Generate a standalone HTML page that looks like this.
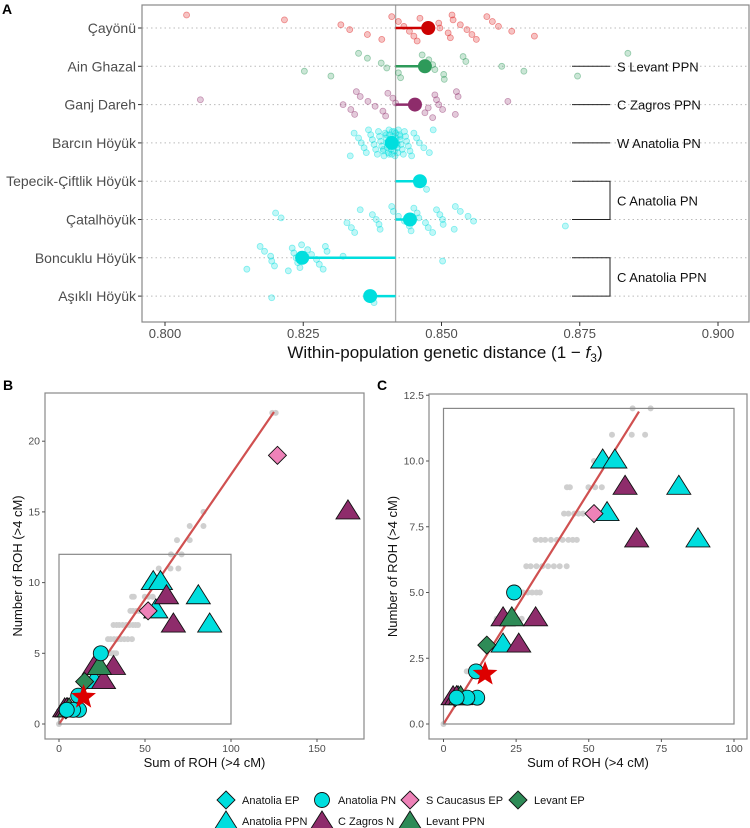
<!DOCTYPE html>
<html><head><meta charset="utf-8">
<style>
body{margin:0;background:#fff;}
svg{display:block;font-family:"Liberation Sans",sans-serif;}
</style></head>
<body>
<svg id="fig" width="750" height="828" viewBox="0 0 750 828"></svg>
<script>
// ---------- Panel A data ----------
const popNames = ["Çayönü","Ain Ghazal","Ganj Dareh","Barcın Höyük","Tepecik-Çiftlik Höyük","Çatalhöyük","Boncuklu Höyük","Aşıklı Höyük"];
const popMeans = [0.8476,0.8470,0.8452,0.8410,0.8461,0.8443,0.8248,0.8371];
const refLine = 0.8417;
const ptsCayonu = [.8039,.8216,.8318,.8334,.8366,.8392,.8410,.8422,.8432,.8442,.8450,.8456,.8461,.8495,.8497,.8512,.8516,.8519,.8521,.8534,.8546,.8555,.8563,.8582,.8592,.8603,.8627,.8668];
const ptsAinGhazal = [.8252,.8300,.8350,.8366,.8391,.8401,.8422,.8426,.8465,.8477,.8484,.8488,.8504,.8505,.8539,.8544,.8609,.8649,.8746,.8837];
const ptsGanjDareh = [.8064,.8322,.8336,.8343,.8346,.8353,.8367,.8380,.8394,.8399,.8403,.8412,.8417,.8476,.8470,.8484,.8488,.8491,.8495,.8502,.8525,.8527,.8530,.8620];
const ptsBarcin = [.8335,.8342,.8350,.8355,.8360,.8364,.8368,.8372,.8375,.8378,.8381,.8384,.8386,.8388,.8390,.8392,.8394,.8396,.8398,.8400,.8401,.8402,.8404,.8405,.8406,.8407,.8408,.8409,.8410,.8411,.8412,.8413,.8414,.8415,.8416,.8417,.8418,.8419,.8420,.8421,.8422,.8424,.8425,.8427,.8429,.8431,.8433,.8435,.8437,.8440,.8443,.8446,.8450,.8455,.8460,.8468,.8478,.8485,.8400,.8410,.8420,.8395,.8405,.8415,.8425];
const ptsTepecik = [.8456,.8473];
const ptsCatal = [.8200,.8210,.8329,.8337,.8343,.8353,.8375,.8382,.8387,.8389,.8410,.8413,.8422,.8433,.8442,.8445,.8450,.8456,.8459,.8471,.8476,.8484,.8491,.8497,.8502,.8503,.8523,.8525,.8534,.8548,.8558,.8724];
const ptsBoncuklu = [.8148,.8172,.8180,.8191,.8193,.8198,.8223,.8230,.8233,.8237,.8240,.8244,.8247,.8258,.8265,.8274,.8279,.8286,.8290,.8293,.8322,.8502];
const ptsAsikli = [.8193,.8378];
const popPoints = [ptsCayonu,ptsAinGhazal,ptsGanjDareh,ptsBarcin,ptsTepecik,ptsCatal,ptsBoncuklu,ptsAsikli];
const popColors = ["#dd1111","#2e9a5a","#8e2c6b","#00dede","#00dede","#00dede","#00dede","#00dede"];
const xTicksA = [0.800,0.825,0.850,0.875,0.900];
const regionLabels = ["S Levant PPN","C Zagros PPN","W Anatolia PN","C Anatolia PN","C Anatolia PPN"];
const regionRows = [[1,1],[2,2],[3,3],[4,5],[6,7]];

// ---------- Panels B/C data ----------
const grayN = [0,2,4,4,4,4,4,5,5,5,5,5,6,6,6,6,6,6,6,6,7,7,7,7,7,7,7,7,7,8,8,8,8,8,9,9,9,9,9,10,10,11,11,11,12,12,13,13,14,14,15,22,22];
const graySum = [0,8,18.3,20,22,24.5,26.9,27.4,29,30.5,32,33.2,28.5,30,32,34,36,38,40,42.4,31.7,33.5,35,37,39,41,43,45.9,44.5,41.5,43,45,46.5,48,42.5,43.5,49.9,52.2,54.5,51.8,53.5,58,64.8,69.4,65.1,71.3,68.6,76,76,84,84,124,126];
const grpAnatoliaPPN_x = [54.8,59,81,56.3,87.6,20.5,5];
const grpAnatoliaPPN_y = [10,10,9,8,7,3,1];
const grpCZagros_x = [62.5,66.5,31.7,25.9,20.5,3.3,4.5,168];
const grpCZagros_y = [9,7,4,3,4,1,1,15];
const grpLevantPPN_x = [23.5,5.9];
const grpLevantPPN_y = [4,1];
const grpLevantEP_x = [14.9];
const grpLevantEP_y = [3];
const grpSCauc_x = [51.8,127];
const grpSCauc_y = [8,19];
const grpAnatoliaPN_x = [24.3,11.2,11.6,8.2,4.5];
const grpAnatoliaPN_y = [5,2,1,1,1];
const grpAnatoliaEP_x = [4];
const grpAnatoliaEP_y = [1];
const starPoint = [14.3,1.9];
const fitSlope = 0.1765;
const bXTicks = [0,50,100,150];
const bYTicks = [0,5,10,15,20];
const cXTicks = [0,25,50,75,100];
const cYTicks = [0,2.5,5,7.5,10,12.5];
const cYLabels = ["0.0","2.5","5.0","7.5","10.0","12.5"];

const NS="http://www.w3.org/2000/svg";
const svg=document.getElementById('fig');
function mk(tag,attrs,parent,txt){const e=document.createElementNS(NS,tag);for(const k in attrs)e.setAttribute(k,attrs[k]);if(txt!==undefined)e.textContent=txt;(parent||svg).appendChild(e);return e;}

// ---------- Panel A ----------
const gA=mk('g',{});


const axL=142,axR=749,axT=5,axB=322;
const xA=v=>165+(v-0.8)*5530;
const rowY=i=>28+i*38.3;
const pl=mk('text',{x:2,y:14,'font-size':14,'font-weight':'bold'},gA,'A');


for(let i=0;i<popNames.length;i++){
  const gl=mk('line',{x1:axL,x2:axR,y1:rowY(i),y2:rowY(i),stroke:'#bbb','stroke-dasharray':'1.5,3','stroke-width':1},gA);
  
  
}
const vl=mk('line',{x1:xA(refLine),x2:xA(refLine),y1:axT,y2:axB,stroke:'#aaa','stroke-width':1.3},gA);


for(let i=0;i<popNames.length;i++){
  const pts=popPoints[i];
  pts.forEach((v,j)=>{
    const jit=(((j*37+i*11)%17)-8)/8*13;
    const c=mk('circle',{cx:xA(v),cy:rowY(i)+jit,r:3,fill:popColors[i],'fill-opacity':0.25,stroke:popColors[i],'stroke-opacity':0.45,'stroke-width':0.8},gA);
    
    
  });
}
for(let i=0;i<popNames.length;i++){
  const ml=mk('line',{x1:xA(refLine),x2:xA(popMeans[i]),y1:rowY(i),y2:rowY(i),stroke:popColors[i]==='#dd1111'?'#cc0000':popColors[i],'stroke-width':2.5},gA);
  
  
  const mc=mk('circle',{cx:xA(popMeans[i]),cy:rowY(i),r:7,fill:popColors[i]==='#dd1111'?'#cc0000':popColors[i]},gA);
  
  
  const t=mk('text',{x:136,y:rowY(i)+5,'text-anchor':'end','font-size':14,fill:'#4d4d4d'},gA,popNames[i]);
  
  
  mk('line',{x1:138,x2:142,y1:rowY(i),y2:rowY(i),stroke:'#333'},gA);
}
regionLabels.forEach((lab,k)=>{
  const [a,b]=regionRows[k];
  const g=mk('g',{},gA);
  
  
  if(a===b){
    mk('line',{x1:572,x2:610,y1:rowY(a),y2:rowY(a),stroke:'#222'},g);
    mk('text',{x:617,y:rowY(a)+5,'font-size':13,fill:'#111'},g,lab);
  } else {
    mk('path',{d:`M572 ${rowY(a)} H610 V${rowY(b)} H572`,fill:'none',stroke:'#222'},g);
    mk('text',{x:617,y:(rowY(a)+rowY(b))/2+5,'font-size':13,fill:'#111'},g,lab);
  }
});
mk('rect',{x:axL,y:axT,width:axR-axL,height:axB-axT,fill:'none',stroke:'#888','stroke-width':1.2},gA);
xTicksA.forEach(v=>{
  mk('line',{x1:xA(v),x2:xA(v),y1:axB,y2:axB+4,stroke:'#333'},gA);
  const t=mk('text',{x:xA(v),y:axB+16,'text-anchor':'middle','font-size':13,fill:'#4d4d4d'},gA,v.toFixed(3));
  
  
});
const tA=mk('text',{x:445,y:358,'text-anchor':'middle','font-size':17,fill:'#111'},gA);


tA.innerHTML='Within-population genetic distance (1 − <tspan font-style="italic">f</tspan><tspan font-size="12" dy="4">3</tspan><tspan dy="-4">)</tspan>';

// ---------- Scatter panels ----------
function shape(g,type,cx,cy,fill,name){
  let e;
  if(type==='tri') e=mk('polygon',{points:`${cx},${cy-12} ${cx+12},${cy+7} ${cx-12},${cy+7}`,fill,stroke:'#111','stroke-width':0.9},g);
  else if(type==='dia') e=mk('polygon',{points:`${cx},${cy-9} ${cx+9},${cy} ${cx},${cy+9} ${cx-9},${cy}`,fill,stroke:'#111','stroke-width':0.9},g);
  else if(type==='cir') e=mk('circle',{cx,cy,r:7.5,fill,stroke:'#111','stroke-width':0.9},g);
  else if(type==='star'){
    let p='';for(let k=0;k<10;k++){const r=k%2?5.5:13;const a=-Math.PI/2+k*Math.PI/5;p+=`${cx+r*Math.cos(a)},${cy+r*Math.sin(a)} `;}
    e=mk('polygon',{points:p,fill,stroke:'none'},g);
  }
  
  
  return e;
}
const groups=[
  {t:'dia',c:'#00dede',x:grpAnatoliaEP_x,y:grpAnatoliaEP_y,n:'anatolia-ep-point'},
  {t:'tri',c:'#00dede',x:grpAnatoliaPPN_x,y:grpAnatoliaPPN_y,n:'anatolia-ppn-point'},
  {t:'tri',c:'#8e2c6b',x:grpCZagros_x,y:grpCZagros_y,n:'c-zagros-n-point'},
  {t:'tri',c:'#2e8b57',x:grpLevantPPN_x,y:grpLevantPPN_y,n:'levant-ppn-point'},
  {t:'dia',c:'#2e8b57',x:grpLevantEP_x,y:grpLevantEP_y,n:'levant-ep-point'},
  {t:'dia',c:'#ee82b8',x:grpSCauc_x,y:grpSCauc_y,n:'s-caucasus-ep-point'},
  {t:'cir',c:'#00dede',x:grpAnatoliaPN_x,y:grpAnatoliaPN_y,n:'anatolia-pn-point'}
];
function scatter(cfg){
  const g=mk('g',{});
  
  
  const {L,R,T,B}=cfg;
  const X=v=>cfg.x0+v*cfg.kx, Y=v=>cfg.y0-v*cfg.ky;
  const lab=mk('text',{x:cfg.lx,y:cfg.ly,'font-size':14,'font-weight':'bold'},g,cfg.letter);
  
  
  const cid='clip'+cfg.letter;
  const cp=mk('clipPath',{id:cid},g);mk('rect',{x:L,y:T,width:R-L,height:B-T},cp);
  const inner=mk('g',{'clip-path':`url(#${cid})`},g);
  graySum.forEach((s,i)=>{
    const c=mk('circle',{cx:X(s),cy:Y(grayN[i]),r:3,fill:'#cfcfcf'},inner);
    
    
  });
  const fl=mk('line',{x1:X(0),y1:Y(0),x2:X(cfg.fitMax),y2:Y(cfg.fitMax*fitSlope),stroke:'#d05050','stroke-width':2.2},inner);
  
  
  const ib=mk('rect',{x:X(0),y:Y(12),width:X(100)-X(0),height:Y(0)-Y(12),fill:'none',stroke:'#888','stroke-width':1.2},inner);
  
  
  groups.forEach(gr=>gr.x.forEach((v,i)=>shape(inner,gr.t,X(v),Y(gr.y[i]),gr.c,gr.n)));
  shape(inner,'star',X(starPoint[0]),Y(starPoint[1]),'#dd0000','highlight-star');
  mk('rect',{x:L,y:T,width:R-L,height:B-T,fill:'none',stroke:'#888','stroke-width':1.2},g);
  cfg.xt.forEach(v=>{
    mk('line',{x1:X(v),x2:X(v),y1:B,y2:B+3,stroke:'#555'},g);
    const t=mk('text',{x:X(v),y:B+13,'text-anchor':'middle','font-size':10.5,fill:'#4d4d4d'},g,String(v));
    
    
  });
  cfg.yt.forEach((v,i)=>{
    mk('line',{x1:L-3,x2:L,y1:Y(v),y2:Y(v),stroke:'#555'},g);
    const t=mk('text',{x:L-5,y:Y(v)+3.5,'text-anchor':'end','font-size':10.5,fill:'#4d4d4d'},g,cfg.yl[i]);
    
    
  });
  const xt=mk('text',{x:(L+R)/2,y:B+28,'text-anchor':'middle','font-size':13,fill:'#111'},g,'Sum of ROH (>4 cM)');
  
  
  const yx=cfg.ytx, yy=(T+B)/2;
  const yt=mk('text',{x:yx,y:yy,'text-anchor':'middle','font-size':13,fill:'#111',transform:`rotate(-90 ${yx} ${yy})`},g,'Number of ROH (>4 cM)');
  
  
}
scatter({name:'panel-b',letter:'B',lx:3,ly:390,L:45,R:364,T:393,B:739,x0:59,kx:1.72,y0:724,ky:14.14,fitMax:125,xt:bXTicks,yt:bYTicks,yl:bYTicks.map(String),ytx:22});
scatter({name:'panel-c',letter:'C',lx:377,ly:390,L:429,R:747,T:394,B:739,x0:443.5,kx:2.905,y0:724,ky:26.3,fitMax:67.3,xt:cXTicks,yt:cYTicks,yl:cYLabels,ytx:397});

// ---------- Legend ----------
const legG=mk('g',{});


const legItems=[
  ['dia','#00dede','Anatolia EP',226,800],['cir','#00dede','Anatolia PN',322,800],['dia','#ee82b8','S Caucasus EP',410,800],['dia','#2e8b57','Levant EP',518,800],
  ['tri','#00dede','Anatolia PPN',226,821],['tri','#8e2c6b','C Zagros N',322,821],['tri','#2e8b57','Levant PPN',410,821]
];
legItems.forEach(it=>{
  const g=mk('g',{},legG);
  
  
  shape(g,it[0],it[3],it[4]+(it[0]==='tri'?2:0),it[1],'legend-key');
  mk('text',{x:it[3]+16,y:it[4]+4,'font-size':11,fill:'#111'},g,it[2]);
});
</script>
</body></html>
